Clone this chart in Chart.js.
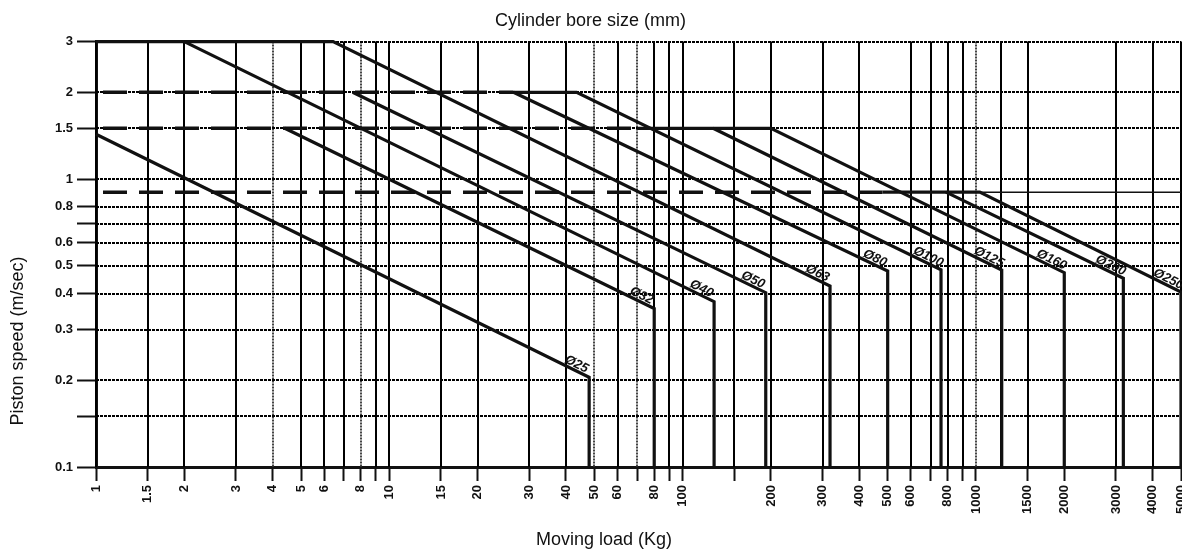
<!DOCTYPE html>
<html>
<head>
<meta charset="utf-8">
<title>Moving load vs piston speed</title>
<script src="https://cdn.jsdelivr.net/npm/chart.js@4.4.1/dist/chart.umd.min.js"></script>
<style>
  html, body { margin: 0; padding: 0; background: #fff; }
  #wrap { width: 1182px; height: 552px; }
</style>
</head>
<body>
<div id="wrap"><canvas id="chart" width="1182" height="552"></canvas></div>
<script>
// x axis (moving load, kg) - every gridline position, some without label
const loadTicks = [1, 1.5, 2, 3, 4, 5, 6, 7, 8, 9, 10, 15, 20, 30, 40, 50, 60, 70, 80, 90, 100, 150, 200,
    300, 400, 500, 600, 700, 800, 900, 1000, 1500, 2000, 3000, 4000, 5000];
const unlabeledLoads = [7, 9, 70, 90, 150, 700, 900];
const dottedLoads = [4, 8, 50, 70, 1000];
const noGridLoads = [500, 2000];
const extraLoadLines = [1220];

// y axis (piston speed, m/sec)
const speedTicks = [0.1, 0.15, 0.2, 0.3, 0.4, 0.5, 0.6, 0.7, 0.8, 1, 1.5, 2, 3];
const unlabeledSpeeds = [0.15, 0.7];

// bore curves: corner points (load, speed)
const bores = ['Ø25', 'Ø32', 'Ø40', 'Ø50', 'Ø63', 'Ø80', 'Ø100', 'Ø125', 'Ø160', 'Ø200', 'Ø250'];
const boreLoads = [
    [1, 48, 48],
    [4.4, 80, 80],
    [2, 128, 128],
    [7.5, 192, 192],
    [1, 6.43, 318, 318],
    [26.5, 500, 500],
    [26.5, 43.5, 760, 760],
    [127, 1224, 1224],
    [70, 200, 2000, 2000],
    [790, 3180, 3180],
    [480, 1030, 5000, 5000]
];
const boreSpeeds = [
    [1.43, 0.205, 0.1],
    [1.5, 0.355, 0.1],
    [3, 0.375, 0.1],
    [2, 0.403, 0.1],
    [3, 3, 0.425, 0.1],
    [2, 0.479, 0.1],
    [2, 2, 0.484, 0.1],
    [1.5, 0.483, 0.1],
    [1.5, 1.5, 0.473, 0.1],
    [0.9, 0.452, 0.1],
    [0.9, 0.9, 0.405, 0.1]
];

// dashed speed limits, from load 1 to the given load
const limitSpeeds = [2, 1.5, 0.9];
const limitEndLoads = [26.5, 70, 480];
// thin line continuing 0.9 after Ø250
const tailLoads = [1030, 5000];
const tailSpeed = 0.9;

const FONT = "'Liberation Sans', Arial, sans-serif";
Chart.defaults.font.family = FONT;
Chart.defaults.color = '#111';

const datasets = [];
bores.forEach((name, i) => {
    datasets.push({
        label: name,
        boreName: name,
        data: boreLoads[i].map((x, j) => ({ x: x, y: boreSpeeds[i][j] })),
        borderColor: '#111',
        borderWidth: 3.2,
        pointRadius: 0,
        clip: false
    });
});
limitSpeeds.forEach((s, i) => {
    datasets.push({
        label: 'limit ' + s,
        data: [{ x: 1, y: s }, { x: limitEndLoads[i], y: s }],
        borderColor: '#111',
        borderWidth: 3.6,
        borderDash: [24, 12],
        borderDashOffset: 29,
        pointRadius: 0,
        clip: false
    });
});
datasets.push({
    label: 'tail',
    data: tailLoads.map(x => ({ x: x, y: tailSpeed })),
    borderColor: '#111',
    borderWidth: 1.5,
    pointRadius: 0,
    clip: false
});

// gridlines drawn with their own dash styles
const gridPlugin = {
    id: 'nomoGrid',
    beforeDatasetsDraw(chart) {
        const { ctx, chartArea: a, scales } = chart;
        ctx.save();
        loadTicks.concat(extraLoadLines).forEach(v => {
            if (noGridLoads.includes(v)) return;
            const px = Math.round(scales.x.getPixelForValue(v));
            const dotted = dottedLoads.includes(v);
            ctx.setLineDash(dotted ? [2, 1] : []);
            ctx.strokeStyle = dotted ? '#444' : '#000';
            ctx.lineWidth = 2;
            ctx.beginPath();
            ctx.moveTo(px, a.top);
            ctx.lineTo(px, a.bottom);
            ctx.stroke();
        });
        speedTicks.forEach(v => {
            if (v === 0.1) return;
            const py = Math.round(scales.y.getPixelForValue(v));
            ctx.setLineDash([3, 1]);
            ctx.strokeStyle = '#000';
            ctx.lineWidth = 2;
            ctx.beginPath();
            ctx.moveTo(a.left, py);
            ctx.lineTo(a.right, py);
            ctx.stroke();
        });
        ctx.restore();
    },
    afterDraw(chart) {
        const { ctx, scales } = chart;
        ctx.save();
        // bore labels along the end of each curve
        ctx.font = 'italic bold 13px ' + FONT;
        ctx.fillStyle = '#111';
        ctx.textAlign = 'center';
        ctx.textBaseline = 'middle';
        chart.data.datasets.forEach(ds => {
            if (!ds.boreName) return;
            const n = ds.data.length;
            const p0 = ds.data[n - 3], p1 = ds.data[n - 2];
            const x0 = scales.x.getPixelForValue(p0.x), y0 = scales.y.getPixelForValue(p0.y);
            const x1 = scales.x.getPixelForValue(p1.x), y1 = scales.y.getPixelForValue(p1.y);
            const ang = Math.atan2(y1 - y0, x1 - x0);
            const ux = Math.cos(ang), uy = Math.sin(ang);
            const cx = x1 - 17 * ux + 6 * uy;
            const cy = y1 - 17 * uy - 6 * ux;
            ctx.save();
            ctx.translate(cx, cy);
            ctx.rotate(ang);
            ctx.fillText(ds.boreName, 0, 0);
            ctx.restore();
        });
        // axis titles
        ctx.font = '18px ' + FONT;
        ctx.fillText('Moving load (Kg)', 604, 540);
        ctx.translate(18, 341);
        ctx.rotate(-Math.PI / 2);
        ctx.fillText('Piston speed (m/sec)', 0, 0);
        ctx.restore();
    }
};

new Chart(document.getElementById('chart'), {
    type: 'line',
    data: { datasets: datasets },
    plugins: [gridPlugin],
    options: {
        responsive: false,
        animation: false,
        devicePixelRatio: 1,
        layout: { padding: { left: 0, right: 1, top: 0, bottom: 0 } },
        elements: { line: { tension: 0 } },
        plugins: {
            legend: { display: false },
            tooltip: { enabled: false },
            title: {
                display: true,
                text: 'Cylinder bore size (mm)',
                font: { size: 18, weight: 'normal' },
                color: '#111',
                padding: { top: 10, bottom: 10 }
            }
        },
        scales: {
            x: {
                type: 'logarithmic',
                min: 1,
                max: 5000,
                afterBuildTicks: axis => { axis.ticks = loadTicks.map(v => ({ value: v })); },
                afterFit: axis => {
                    axis.height = 85;
                    axis.paddingLeft = 0;
                    axis.paddingRight = 0;
                },
                border: { display: true, color: '#111', width: 3 },
                grid: {
                    drawOnChartArea: false,
                    drawTicks: true,
                    tickLength: 14,
                    tickWidth: 2,
                    tickColor: '#111'
                },
                ticks: {
                    autoSkip: false,
                    minRotation: 90,
                    maxRotation: 90,
                    padding: 4,
                    color: '#111',
                    font: { size: 13, weight: 'bold' },
                    callback: v => unlabeledLoads.includes(v) ? '' : String(v)
                }
            },
            y: {
                type: 'logarithmic',
                min: 0.1,
                max: 3,
                afterBuildTicks: axis => { axis.ticks = speedTicks.map(v => ({ value: v })); },
                afterFit: axis => {
                    axis.width = 96;
                    axis.paddingTop = 0;
                    axis.paddingBottom = 0;
                },
                border: { display: true, color: '#111', width: 3 },
                grid: {
                    drawOnChartArea: false,
                    drawTicks: true,
                    tickLength: 19,
                    tickWidth: 2,
                    tickColor: '#111'
                },
                ticks: {
                    padding: 4,
                    color: '#111',
                    font: { size: 13, weight: 'bold' },
                    callback: v => unlabeledSpeeds.includes(v) ? '' : String(v)
                }
            }
        }
    }
});
</script>
</body>
</html>
